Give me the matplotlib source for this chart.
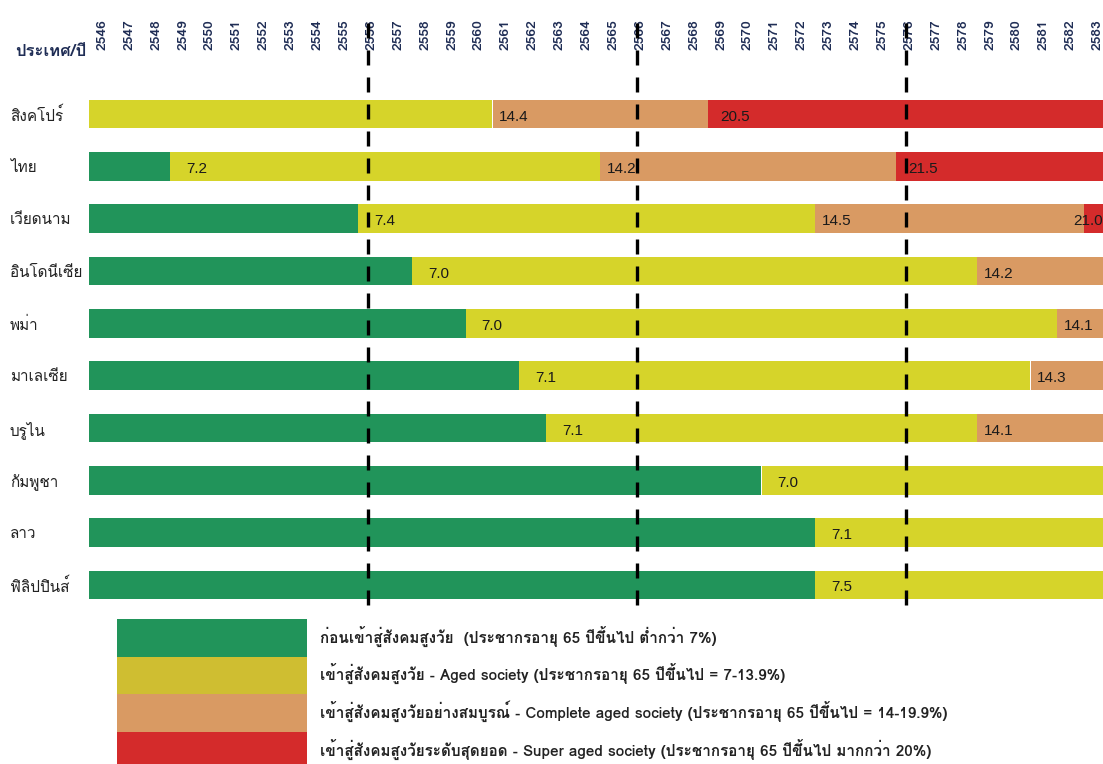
import numpy as np
import matplotlib
matplotlib.use("Agg")
import matplotlib.pyplot as plt
from matplotlib import font_manager
from matplotlib.patches import Rectangle

# ---- data ----
countries = ["สิงคโปร์", "ไทย", "เวียดนาม", "อินโดนีเซีย", "พม่า",
             "มาเลเซีย", "บรูไน", "กัมพูชา", "ลาว", "ฟิลิปปินส์"]
years = np.arange(2546, 2584)
milestones = [2556, 2566, 2576]

# year each country enters a stage (None = not within the chart)
aged_year = [2546, 2549, 2556, 2558, 2560, 2562, 2563, 2571, 2573, 2573]
aged_pct = [None, 7.2, 7.4, 7.0, 7.0, 7.1, 7.1, 7.0, 7.1, 7.5]
complete_year = [2561, 2565, 2573, 2579, 2582, 2581, 2579, None, None, None]
complete_pct = [14.4, 14.2, 14.5, 14.2, 14.1, 14.3, 14.1, None, None, None]
super_year = [2569, 2576, 2583, None, None, None, None, None, None, None]
super_pct = [20.5, 21.5, 21.0, None, None, None, None, None, None, None]

stage_names = [
    "ก่อนเข้าสู่สังคมสูงวัย  (ประชากรอายุ 65 ปีขึ้นไป ต่ำกว่า 7%)",
    "เข้าสู่สังคมสูงวัย - Aged society (ประชากรอายุ 65 ปีขึ้นไป = 7-13.9%)",
    "เข้าสู่สังคมสูงวัยอย่างสมบูรณ์ - Complete aged society (ประชากรอายุ 65 ปีขึ้นไป = 14-19.9%)",
    "เข้าสู่สังคมสูงวัยระดับสุดยอด - Super aged society (ประชากรอายุ 65 ปีขึ้นไป มากกว่า 20%)",
]
stage_colors = ["#21945a", "#d6d42a", "#d99a63", "#d42b2b"]
legend_colors = ["#21945a", "#cfbe31", "#d99a63", "#d42b2b"]
label_shift = [0, 0.6, 0.25, 0.45]   # value label offset from segment start, in years

# ---- fonts ----
installed = {f.name for f in font_manager.fontManager.ttflist}
def pick(*names):
    return [n for n in names if n in installed] + ["DejaVu Sans"]
thai = pick("Loma", "Noto Sans Thai", "Sarabun")
num_font = pick("Liberation Sans", "Arial")
navy = "#1f2d55"

W, H = 1103, 764
fig = plt.figure(figsize=(W / 100, H / 100), dpi=100)
ax = fig.add_axes([89 / W, 1 - 611 / H, 1014 / W, 523 / H])

first, last = years[0], years[-1]
x0, x1 = first - 0.5, first - 0.5 + 1014 / 26.9
for i in range(len(countries)):
    bounds = [first, aged_year[i], complete_year[i], super_year[i]]
    vals = [None, aged_pct[i], complete_pct[i], super_pct[i]]
    segs = [(k, b, v) for k, (b, v) in enumerate(zip(bounds, vals)) if b is not None]
    for j, (k, b, v) in enumerate(segs):
        end = segs[j + 1][1] if j + 1 < len(segs) else last + 1
        ax.barh(i, end - b, left=b - 0.5, height=0.545,
                color=stage_colors[k], edgecolor="none", zorder=2)
        if v is not None:
            tx, ha = b - 0.5 + label_shift[k], "left"
            if tx + 1.05 > x1:          # keep labels inside the visible area
                tx, ha = x1 - 0.02, "right"
            ax.text(tx, i + 0.05, f"{v:.1f}", ha=ha, va="center",
                    fontsize=11, family=num_font, color="#1a1a1a", zorder=3)

ax.set_xlim(x0, x1)
ax.set_ylim(len(countries) - 0.5, -0.5)

ax.xaxis.tick_top()
ax.set_xticks(years)
ax.set_xticklabels([str(y) for y in years], rotation=90, fontsize=10,
                   fontweight="bold", color=navy, family=thai)
ax.set_yticks(range(len(countries)))
ax.set_yticklabels(countries, fontsize=11, color="#222222", family=thai, ha="left")
ax.tick_params(axis="x", length=0, pad=27)
ax.tick_params(axis="y", length=0, pad=57)
for s in ax.spines.values():
    s.set_visible(False)

for m in milestones:
    ax.axvline(m - 0.13, ymin=6 / 523, ymax=598 / 523, color="black", lw=2.4,
               linestyle=(0, (4.5, 3.6)), clip_on=False, zorder=5)

fig.text(15 / W, 1 - 52 / H, "ประเทศ/ปี", ha="left", va="center", fontsize=12,
         fontweight="bold", color=navy, family=thai)

# legend block at the bottom
lax = fig.add_axes([0, 0, 1, 1], zorder=-1)
lax.set_xlim(0, W)
lax.set_ylim(H, 0)
lax.axis("off")
for k, (name, c) in enumerate(zip(stage_names, legend_colors)):
    top = 619 + 37.7 * k
    lax.add_patch(Rectangle((117, top), 190, 37.7, facecolor=c, edgecolor="none"))
    lax.text(320, top + 17, name, ha="left", va="center", fontsize=11,
             fontweight="bold", color="#222222", family=thai)

fig.savefig("out.png", dpi=100)
